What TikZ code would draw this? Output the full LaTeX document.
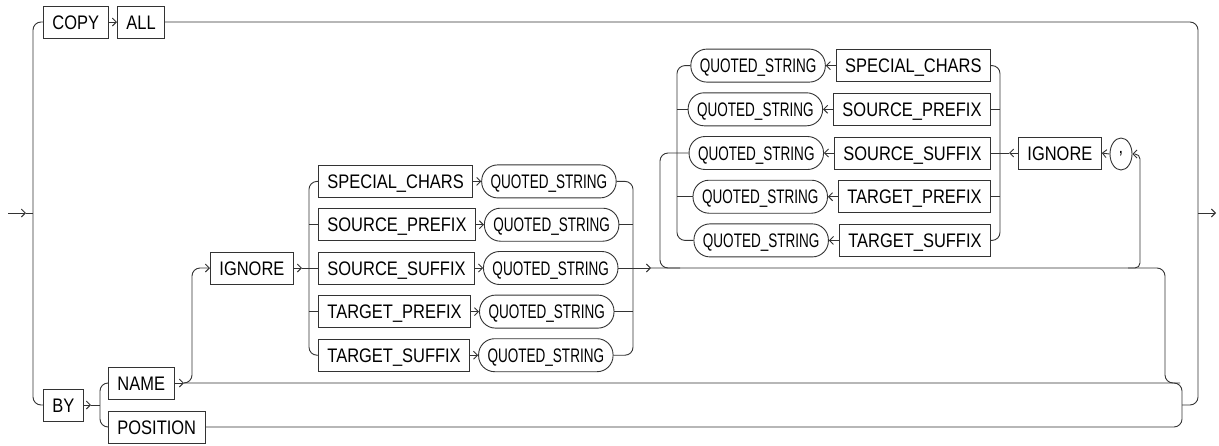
\documentclass[tikz,border=0pt]{standalone}
\usepackage{fontspec}
\setmainfont{Liberation Sans}
\newfontfamily\boxfont[FakeStretch=0.84]{Liberation Sans}
\newfontfamily\qsfont[FakeStretch=0.69]{Liberation Sans}
\usetikzlibrary{arrows.meta,shapes.geometric}
\tikzset{
  kw/.style={draw=black!80, line width=0.9pt, font=\boxfont\fontsize{19.6}{21}\selectfont,
    inner xsep=9pt, inner ysep=0pt, minimum height=32pt, text height=14pt, text depth=0pt},
  qs/.style={draw=black!80, line width=0.9pt, rounded corners=16pt, font=\qsfont\fontsize{19.6}{21}\selectfont,
    inner xsep=9pt, inner ysep=0pt, minimum height=33pt, text height=14pt, text depth=0pt},
  sep/.style={draw=black!80, line width=0.9pt, ellipse, inner sep=0pt, minimum width=22pt, minimum height=32pt,
    font=\boxfont\fontsize{19.6}{21}\selectfont},
  ln/.style={draw=black!80, line width=0.9pt, rounded corners=8pt},
  arr/.style={-{Straight Barb[length=4pt,width=8pt]}},
}
\begin{document}
\begin{tikzpicture}[x=1pt,y=-1pt]
\useasboundingbox (0,0) rectangle (1219,445);
% top branch
\node[kw, anchor=west] (copy) at (43,22) {COPY};
\node[kw, anchor=west] (all) at (117,22) {ALL};
% bottom branch
\node[kw, anchor=west] (by) at (43,405) {BY};
\node[kw, anchor=west] (name) at (108,383) {NAME};
\node[kw, anchor=west] (pos) at (108,427) {POSITION};
\node[kw, anchor=west] (ign1) at (210,268) {IGNORE};
% lower group
\node[kw, anchor=west] (lsc) at (318,181.4) {SPECIAL\_CHARS};
\node[kw, anchor=west] (lsp) at (318,224.7) {SOURCE\_PREFIX};
\node[kw, anchor=west] (lss) at (318,268) {SOURCE\_SUFFIX};
\node[kw, anchor=west] (ltp) at (318,311.6) {TARGET\_PREFIX};
\node[kw, anchor=west] (lts) at (318,355.2) {TARGET\_SUFFIX};
\node[qs, anchor=west] (lq1) at ([xshift=8pt]lsc.east) {QUOTED\_STRING};
\node[qs, anchor=west] (lq2) at ([xshift=8pt]lsp.east) {QUOTED\_STRING};
\node[qs, anchor=west] (lq3) at ([xshift=8pt]lss.east) {QUOTED\_STRING};
\node[qs, anchor=west] (lq4) at ([xshift=8pt]ltp.east) {QUOTED\_STRING};
\node[qs, anchor=west] (lq5) at ([xshift=8pt]lts.east) {QUOTED\_STRING};
% upper group
\node[kw, anchor=east] (usc) at (991,65.6) {SPECIAL\_CHARS};
\node[kw, anchor=east] (usp) at (991,109.3) {SOURCE\_PREFIX};
\node[kw, anchor=east] (uss) at (991,153) {SOURCE\_SUFFIX};
\node[kw, anchor=east] (utp) at (991,196.7) {TARGET\_PREFIX};
\node[kw, anchor=east] (uts) at (991,240.4) {TARGET\_SUFFIX};
\node[qs, anchor=east] (uq1) at ([xshift=-10pt]usc.west) {QUOTED\_STRING};
\node[qs, anchor=east] (uq2) at ([xshift=-10pt]usp.west) {QUOTED\_STRING};
\node[qs, anchor=east] (uq3) at ([xshift=-10pt]uss.west) {QUOTED\_STRING};
\node[qs, anchor=east] (uq4) at ([xshift=-10pt]utp.west) {QUOTED\_STRING};
\node[qs, anchor=east] (uq5) at ([xshift=-10pt]uts.west) {QUOTED\_STRING};
\node[kw, anchor=west] (uign) at (1018,153) {IGNORE};
\node[sep] (comma) at (1121,154) {,};
% coordinates
\coordinate (in0) at (8,213);
\coordinate (in1) at (26,213);
\coordinate (out0) at (1198,213);
\coordinate (out1) at (1216,213);
% entry and left choice
\draw[ln,arr] (in0) -- (in1);
\draw[ln] (in1) -- (33,213);
\draw[ln] (copy.west) -- (33,22) -- (33,405) -- (by.west);
\draw[ln,arr] (copy.east) -- (all.west);
\draw[ln,arr] (by.east) -- (91,405);
\draw[ln] (91,405) -- (100,405);
\draw[ln] (name.west) -- (100,383) -- (100,427) -- (pos.west);
% name line and branch to ignore
\draw[ln,arr] (name.east) -- (184,383);
\draw[ln] (184,383) -- (1182,383) -- (1182,427) -- (pos.east);
\draw[ln,arr] (184,383) -- (192,383) -- (192,268) -- (ign1.west);
% lower group
\draw[ln,arr] (ign1.east) -- (302,268);
\draw[ln] (302,268) -- (lss.west);
\draw[ln] (lsc.west) -- (309,181.4) -- (309,355.2) -- (lts.west);
\draw[ln] (309,224.7) -- (lsp.west);
\draw[ln] (309,311.6) -- (ltp.west);
\draw[ln,arr] (lsc.east) -- (lq1.west);
\draw[ln,arr] (lsp.east) -- (lq2.west);
\draw[ln,arr] (lss.east) -- (lq3.west);
\draw[ln,arr] (ltp.east) -- (lq4.west);
\draw[ln,arr] (lts.east) -- (lq5.west);
\draw[ln] (lq1.east) -- (633,181.4) -- (633,355.2) -- (lq5.east);
\draw[ln] (lq2.east) -- (633,224.7);
\draw[ln] (lq4.east) -- (633,311.6);
\draw[ln,arr] (lq3.east) -- (651,268);
\draw[ln] (651,268) -- (1165,268) -- (1165,383) -- (1180,383);
% upper group
\draw[ln] (uq3.west) -- (660,153) -- (660,268) -- (680,268);
\draw[ln] (uq1.west) -- (677,65.6) -- (677,240.4) -- (uq5.west);
\draw[ln] (uq2.west) -- (677,109.3);
\draw[ln] (uq4.west) -- (677,196.7);
\draw[ln,arr] (usc.west) -- (uq1.east);
\draw[ln,arr] (usp.west) -- (uq2.east);
\draw[ln,arr] (uss.west) -- (uq3.east);
\draw[ln,arr] (utp.west) -- (uq4.east);
\draw[ln,arr] (uts.west) -- (uq5.east);
\draw[ln] (usc.east) -- (1000,65.6) -- (1000,240.4) -- (uts.east);
\draw[ln] (usp.east) -- (1000,109.3);
\draw[ln] (utp.east) -- (1000,196.7);
\draw[ln] (uss.east) -- (1009,153);
\draw[ln,arr] (uign.west) -- (1009,153);
\draw[ln,arr] (comma.west) -- (uign.east);
\draw[ln,arr,rounded corners=5pt] (1128,268) -- (1140,268) -- (1140,154) -- (comma.east);
% right side and exit
\draw[ln] (1182,405) -- (1198,405) -- (1198,22) -- (all.east);
\draw[ln,arr] (out0) -- (out1);
\end{tikzpicture}
\end{document}
